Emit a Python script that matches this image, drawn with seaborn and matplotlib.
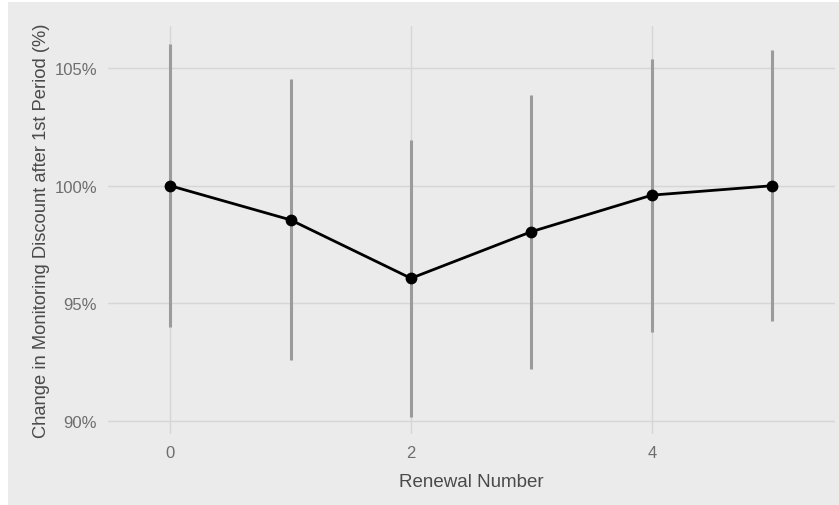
import pandas as pd
import numpy as np
import matplotlib
matplotlib.use("Agg")
import matplotlib.pyplot as plt
import seaborn as sns
from matplotlib.patches import Rectangle

renewal = [0, 1, 2, 3, 4, 5]
mean_pct = [100.0, 98.55, 96.07, 98.05, 99.60, 100.0]
lower_pct = [93.99, 92.60, 90.19, 92.22, 93.80, 94.26]
upper_pct = [106.03, 104.53, 101.94, 103.85, 105.38, 105.76]

df = pd.DataFrame({"renewal": renewal, "mean": mean_pct,
                   "lower": lower_pct, "upper": upper_pct})

bg = "#EBEBEB"
sns.set_theme(style="darkgrid", rc={
    "axes.facecolor": bg,
    "grid.color": "#D6D6D6",
    "grid.linewidth": 1.0,
})
plt.rcParams["font.family"] = ["Liberation Sans", "DejaVu Sans"]

fig = plt.figure(figsize=(8.39, 5.06), dpi=100)
fig.patch.set_facecolor("white")
fig.patches.append(Rectangle((8 / 839, 0), 1, 503 / 506, transform=fig.transFigure,
                             facecolor=bg, edgecolor="none", zorder=-10))
ax = fig.add_axes([108 / 839, 1 - 435 / 506, (835 - 108) / 839, (435 - 27) / 506])

ax.vlines(df["renewal"], df["lower"], df["upper"], color="#9B9B9B", linewidth=2.2, zorder=2)
sns.lineplot(data=df, x="renewal", y="mean", color="black", linewidth=2.0,
             marker="o", markersize=8.5, markeredgewidth=0, ax=ax, zorder=3)

ax.set_xlim(-0.515, 5.52)
ax.set_ylim(89.46, 106.78)
ax.set_xticks([0, 2, 4])
ax.set_yticks([90, 95, 100, 105])
ax.set_yticklabels([f"{v}%" for v in [90, 95, 100, 105]])
ax.grid(True, which="major")
for s in ax.spines.values():
    s.set_visible(False)
ax.tick_params(axis="both", length=0, labelsize=12, labelcolor="#6E6E6E", pad=8)

ax.set_xlabel("Renewal Number", fontsize=13.5, color="#4A4A4A", labelpad=9)
ax.set_ylabel("Change in Monitoring Discount after 1st Period (%)", fontsize=13.2,
              color="#4A4A4A", labelpad=3)

fig.savefig("out.png", dpi=100, facecolor=fig.get_facecolor())
